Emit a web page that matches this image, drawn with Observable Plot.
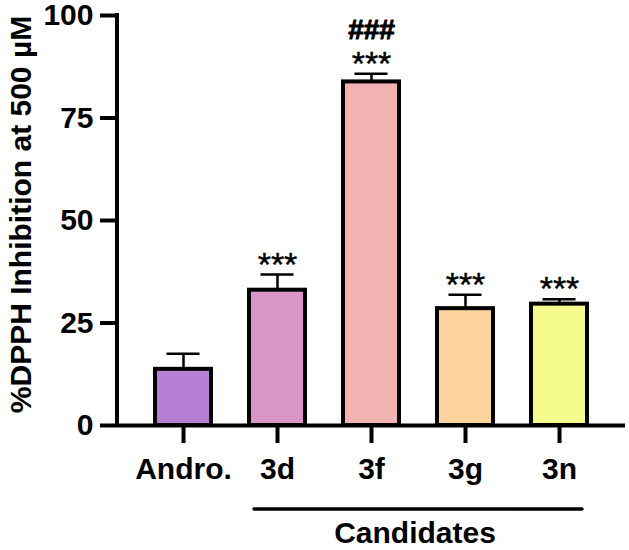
<!DOCTYPE html>
<html>
<head>
<meta charset="utf-8">
<script src="https://cdn.jsdelivr.net/npm/d3@7"></script>
<script src="https://cdn.jsdelivr.net/npm/@observablehq/plot@0.6"></script>
<style>
  html, body { margin: 0; padding: 0; background: #fff; }
  #chart svg { display: block; }
</style>
</head>
<body>
<div id="chart"></div>
<script>
const names = ["Andro.", "3d", "3f", "3g", "3n"];
const means = [13.7, 33.0, 83.8, 28.5, 29.6];
const sds = [3.8, 3.8, 2.0, 3.4, 1.2];
const stars = ["", "***", "***", "***", "***"];
const hashes = ["", "", "###", "", ""];
const colors = ["#B57FD4", "#DA95C8", "#F2B3B3", "#FCD39C", "#F5FA8C"];
const yTicks = [0, 25, 50, 75, 100];
const yLabel = "%DPPH Inhibition at 500 µM";
const groupLabel = "Candidates";
const groupMembers = ["3d", "3n"];

const data = names.map((n, i) => ({name: n, mean: means[i], sd: sds[i], top: means[i] + sds[i], stars: stars[i], hash: hashes[i]}));

const font = "'Liberation Sans', Arial, Helvetica, sans-serif";

function bandwidthOf(x) {
  return typeof x.bandwidth === "function" ? x.bandwidth() : (x.bandwidth || 0);
}

// y-axis line drawn from the y scale
function yAxisLine(index, scales, values, dims) {
  const y = scales.y;
  const g = d3.create("svg:g");
  g.append("line")
    .attr("x1", dims.marginLeft).attr("x2", dims.marginLeft)
    .attr("y1", y(0)).attr("y2", y(100))
    .attr("stroke", "black").attr("stroke-width", 4).attr("stroke-linecap", "square");
  return g.node();
}

// group bracket under the x axis
function groupBracket(index, scales, values, dims) {
  const x = scales.x, y = scales.y;
  const bw = bandwidthOf(x);
  const x1 = x(groupMembers[0]) + 5;
  const x2 = x(groupMembers[1]) + bw - 5;
  const base = y(0);
  const g = d3.create("svg:g");
  g.append("line")
    .attr("x1", x1).attr("x2", x2)
    .attr("y1", base + 84).attr("y2", base + 84)
    .attr("stroke", "black").attr("stroke-width", 3.5).attr("stroke-linecap", "round");
  g.append("text")
    .attr("x", (x1 + x2) / 2 - 3).attr("y", base + 118)
    .attr("text-anchor", "middle")
    .attr("font-family", font).attr("font-size", 30).attr("font-weight", "bold")
    .attr("fill", "black")
    .text(groupLabel);
  return g.node();
}

const chart = Plot.plot({
  width: 629,
  height: 550,
  marginLeft: 117,
  marginRight: 4,
  marginTop: 15,
  marginBottom: 125,
  style: {fontFamily: font, background: "white", color: "black"},
  x: {domain: names, paddingInner: 0.4, paddingOuter: 0.374, label: null},
  y: {domain: [0, 100], label: null},
  color: {domain: names, range: colors},
  marks: [
    Plot.ruleX(data, {x: "name", y1: "mean", y2: "top", stroke: "black", strokeWidth: 2.5}),
    Plot.tickY(data, {x: "name", y: "top", stroke: "black", strokeWidth: 2.5, inset: 11.5}),
    Plot.barY(data, {x: "name", y: "mean", fill: "name", stroke: "black", strokeWidth: 4}),
    Plot.text(data, {x: "name", y: "top", text: "stars", lineAnchor: "bottom", dy: 1, fontSize: 34, fill: "black", stroke: "black", strokeWidth: 0.4}),
    Plot.text(data, {x: "name", y: "top", text: "hash", lineAnchor: "bottom", dy: -35, fontSize: 28, fontWeight: "bold", fill: "black", stroke: "black", strokeWidth: 1}),
    Plot.ruleY([0], {stroke: "black", strokeWidth: 4}),
    yAxisLine,
    Plot.axisY({ticks: yTicks, tickSize: 17, tickPadding: 7, strokeWidth: 4, fontSize: 30, fontWeight: "bold", label: null, fill: "black"}),
    Plot.axisX({tickSize: 18, tickPadding: 14, strokeWidth: 4, fontSize: 30, fontWeight: "bold", label: null, fill: "black"}),
    Plot.text([yLabel], {frameAnchor: "left", textAnchor: "middle", rotate: -90, dx: -96, dy: -6, fontSize: 30, fontWeight: "bold", fill: "black"}),
    groupBracket
  ]
});
document.getElementById("chart").appendChild(chart);
</script>
</body>
</html>
